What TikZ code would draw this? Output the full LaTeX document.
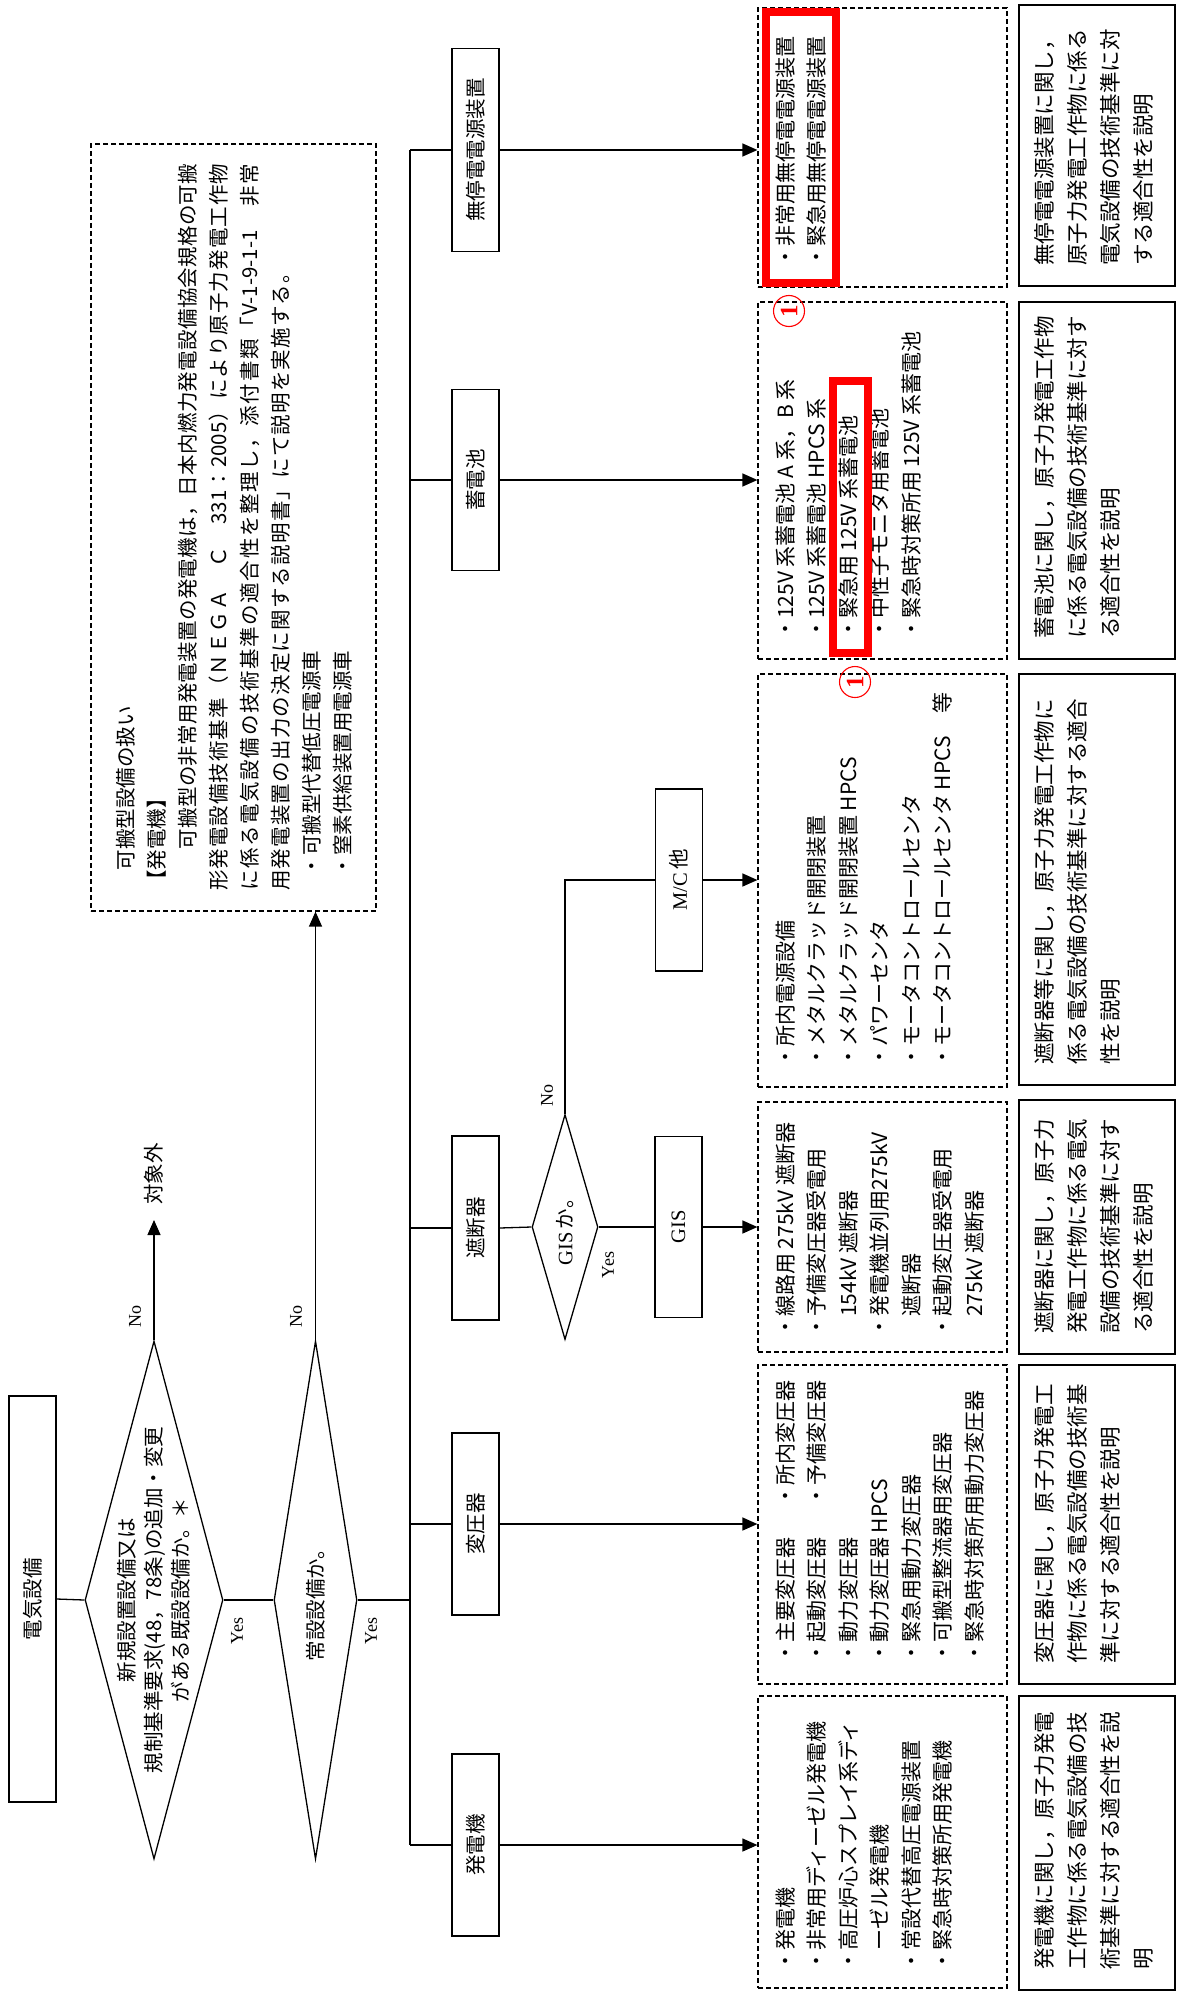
\documentclass[tikz,border=0pt]{standalone}
\usepackage{fontspec}
\setmainfont{Liberation Serif}
\newfontfamily\jp{Noto Sans CJK JP}
\usetikzlibrary{shapes.geometric,arrows.meta}
\makeatletter
\newcommand\distrib[2]{\makebox[#1][s]{\@tfor\@dtok:=#2\do{\@dtok\hfil}\unskip}}
\makeatother
\newlength\gw
\begin{document}
\begin{tikzpicture}[x=1pt,y=-1pt,
  ln/.style={line width=1.3pt},
  thk/.style={line width=2.2pt},
  arr/.style={line width=1.3pt,-{Triangle[length=15pt,width=13pt]}},
  cat/.style={draw,line width=1.3pt,inner sep=0pt,minimum width=47pt},
  dbox/.style={draw,line width=1.2pt,dash pattern=on 5pt off 3pt,inner sep=0pt,minimum width=249pt},
  sbox/.style={draw,line width=1.3pt,inner sep=0pt,minimum width=156pt},
  vt/.style={rotate=90,anchor=north west,inner sep=0pt,align=left},
  jt/.style={font=\jp\fontsize{21}{31.5}\selectfont},
  st/.style={font=\jp\fontsize{21.5}{33}\selectfont},
  lbl/.style={rotate=90,inner sep=0pt,font=\jp\fontsize{20.5}{24}\selectfont},
  yn/.style={rotate=90,inner sep=0pt,font=\rmfamily\fontsize{18}{18}\selectfont},
  dia/.style={draw,diamond,line width=1.3pt,inner sep=0pt},
  redbox/.style={draw=red,line width=8pt,inner sep=0pt},
  num/.style={circle,draw=red,text=red,line width=1.1pt,inner sep=0pt,minimum size=31pt,rotate=90,font=\rmfamily\bfseries\fontsize{25}{25}\selectfont}
]
\settowidth{\gw}{\jp\fontsize{21}{31.5}\selectfont ・線路用 275kV 遮断器}
\path[use as bounding box,fill=white] (0,0) rectangle (1176,1993);

% left column
\node[draw,line width=1.3pt,inner sep=0pt,minimum width=47pt,minimum height=406pt] (e) at (32.5,1599) {};
\node[lbl] (et) at (e) {電気設備};
\node[dia,minimum width=138pt,minimum height=518pt] (d1) at (154,1600) {};
\node[rotate=90,align=center,inner sep=0pt,font=\jp\fontsize{20.5}{27}\selectfont] (d1t) at (d1) {新規設置設備又は\\規制基準要求(48，78条)の追加・変更\\がある既設設備か。＊};
\node[dia,minimum width=83pt,minimum height=518pt] (d2) at (315.5,1600) {};
\node[lbl] (d2t) at (d2) {常設設備か。};
\node[yn] (y1) at (237,1631) {Yes};
\node[yn] (y2) at (371,1631) {Yes};
\node[yn] (n1) at (135,1316) {No};
\node[yn] (n2) at (296,1316) {No};
\node[lbl,anchor=west,inner xsep=15pt] (out) at (154,1220) {対象外};

\draw[ln] (e.east) -- (d1.west);
\draw[ln] (d1.east) -- (d2.west);
\draw[arr] (d1.north) -- (out.west);

% portable equipment box
\node[dbox,minimum width=285pt,minimum height=767pt] (p) at (233.5,527.5) {};
\node[vt,font=\jp\fontsize{20.5}{31}\selectfont] (pt) at (116,891) {\hspace{1em}可搬型設備の扱い\\【発電機】\\\distrib{727pt}{　　可搬型の非常用発電装置の発電機は，日本内燃力発電設備協会規格の可搬}\\\distrib{727pt}{形発電設備技術基準（ＮＥＧＡ　Ｃ　{331}：{2005}）により原子力発電工作物}\\\distrib{727pt}{に係る電気設備の技術基準の適合性を整理し，添付書類「{V-1-9-1-1}　非常}\\\distrib{628pt}{用発電装置の出力の決定に関する説明書」にて説明を実施する。}\\\hspace{0.7em}・可搬型代替低圧電源車\\\hspace{0.7em}・窒素供給装置用電源車};
\draw[arr] (d2.north) -- (d2.north |- p.south);

% trunk and categories
\coordinate (tr) at (410,1600);
\node[cat,minimum height=203pt] (cU) at (475.5,150) {};
\node[lbl] at (cU) {無停電電源装置};
\node[cat,minimum height=181pt] (cB) at (475.5,480) {};
\node[lbl] at (cB) {蓄電池};
\node[cat,minimum height=184pt] (cM) at (475.5,1228) {};
\node[lbl] at (cM) {遮断器};
\node[cat,minimum height=182pt] (cT) at (475.5,1524) {};
\node[lbl] at (cT) {変圧器};
\node[cat,minimum height=182pt] (cH) at (475.5,1845) {};
\node[lbl] at (cH) {発電機};

\draw[ln] (d2.east) -- (tr);
\draw[thk] (tr |- cU.west) -- (tr |- cH.west);
\foreach \c in {cU,cB,cM,cT,cH} \draw[ln] (tr |- \c.west) -- (\c.west);

% breaker branch
\node[dia,minimum width=66pt,minimum height=225pt] (gd) at (565,1227) {};
\node[lbl] (gdt) at (gd) {{\rmfamily GIS}\,か。};
\node[yn] (y3) at (608,1265) {Yes};
\node[yn] (n3) at (547,1095) {No};
\node[cat,minimum height=181pt] (gis) at (678.5,1227) {};
\node[lbl,font=\rmfamily\fontsize{20.5}{24}\selectfont] at (gis) {GIS};
\node[cat,minimum height=182pt] (mc) at (679,880) {};
\node[lbl,font=\rmfamily\fontsize{20.5}{24}\selectfont] at (mc) {M/C\,{\jp 他}};
\draw[ln] (cM.east) -- (gd.west);
\draw[ln] (gd.east) -- (gis.west);
\draw[thk] (gd.north) |- (mc.west);

% dashed content boxes
\node[dbox,minimum height=279pt] (dU) at (882.5,147.5) {};
\node[dbox,minimum height=357pt] (dB) at (882.5,480.5) {};
\node[dbox,minimum height=413pt] (dM) at (882.5,880.5) {};
\node[dbox,minimum height=250pt] (dG) at (882.5,1227) {};
\node[dbox,minimum height=319pt] (dT) at (882.5,1524.5) {};
\node[dbox,minimum height=292pt] (dH) at (882.5,1842) {};

\draw[arr] (cU.east) -- (cU.east -| dU.west);
\draw[arr] (cB.east) -- (cB.east -| dB.west);
\draw[arr] (mc.east) -- (mc.east -| dM.west);
\draw[arr] (gis.east) -- (gis.east -| dG.west);
\draw[arr] (cT.east) -- (cT.east -| dT.west);
\draw[arr] (cH.east) -- (cH.east -| dH.west);

\node[vt,jt] (tU) at (775.5,268) {・非常用無停電電源装置\\・緊急用無停電電源装置};
\node[vt,jt] (tB) at (775.5,640) {・125V 系蓄電池 A 系，B 系\\・125V 系蓄電池 HPCS 系\\・緊急用 125V 系蓄電池\\・中性子モニタ用蓄電池\\・緊急時対策所用 125V 系蓄電池};
\node[vt,jt] (tM) at (775.5,1068) {・所内電源設備\\・メタルクラッド開閉装置\\・メタルクラッド開閉装置 HPCS\\・パワーセンタ\\・モータコントロールセンタ\\・モータコントロールセンタ HPCS\hspace{1.1em}等};
\node[vt,jt] (tG) at (775.5,1338) {・線路用 275kV 遮断器\\\makebox[\gw][s]{・予\hfil 備\hfil 変\hfil 圧\hfil 器\hfil 受\hfil 電\hfil 用}\\\hspace{1em}154kV 遮断器\\\makebox[\gw][s]{・発電機並列用\hfil 275kV}\\\hspace{1em}遮断器\\\makebox[\gw][s]{・起\hfil 動\hfil 変\hfil 圧\hfil 器\hfil 受\hfil 電\hfil 用}\\\hspace{1em}275kV 遮断器};
\node[vt,jt] (tT) at (775.5,1664) {・主要変圧器\hspace{1.5em}・所内変圧器\\・起動変圧器\hspace{1.5em}・予備変圧器\\・動力変圧器\\・動力変圧器 HPCS\\・緊急用動力変圧器\\・可搬型整流器用変圧器\\・緊急時対策所用動力変圧器};
\node[vt,jt] (tH) at (775.5,1972) {・発電機\\・非常用ディーゼル発電機\\・高圧炉心スプレイ系ディ\\\hspace{1em}ーゼル発電機\\・常設代替高圧電源装置\\・緊急時対策所用発電機};

% solid explanation boxes
\node[sbox,minimum height=281pt] (sU) at (1097,145.5) {};
\node[sbox,minimum height=357pt] (sB) at (1097,480.5) {};
\node[sbox,minimum height=411pt] (sM) at (1097,879.5) {};
\node[sbox,minimum height=254pt] (sG) at (1097,1227) {};
\node[sbox,minimum height=319pt] (sT) at (1097,1524.5) {};
\node[sbox,minimum height=294pt] (sH) at (1097,1843) {};

\node[vt,st] (uU) at (1034.5,266) {無停電電源装置に関し，\\原子力発電工作物に係る\\電気設備の技術基準に対\\する適合性を説明};
\node[vt,st] (uB) at (1034.5,639) {蓄電池に関し，原子力発電工作物\\に係る電気設備の技術基準に対す\\る適合性を説明};
\node[vt,st] (uM) at (1034.5,1065) {遮断器等に関し，原子力発電工作物に\\係る電気設備の技術基準に対する適合\\性を説明};
\node[vt,st] (uG) at (1034.5,1334) {遮断器に関し，原子力\\発電工作物に係る電気\\設備の技術基準に対す\\る適合性を説明};
\node[vt,st] (uT) at (1034.5,1664) {変圧器に関し，原子力発電工\\作物に係る電気設備の技術基\\準に対する適合性を説明};
\node[vt,st] (uH) at (1034.5,1970) {発電機に関し，原子力発電\\工作物に係る電気設備の技\\術基準に対する適合性を説\\明};

% red markings
\node[redbox,minimum width=70pt,minimum height=271pt] (r1) at (801,147.5) {};
\node[redbox,minimum width=35pt,minimum height=272pt] (r2) at (850.5,517) {};
\node[num] (c1) at (789,311) {1};
\node[num] (c2) at (855,682) {1};
\end{tikzpicture}
\end{document}
